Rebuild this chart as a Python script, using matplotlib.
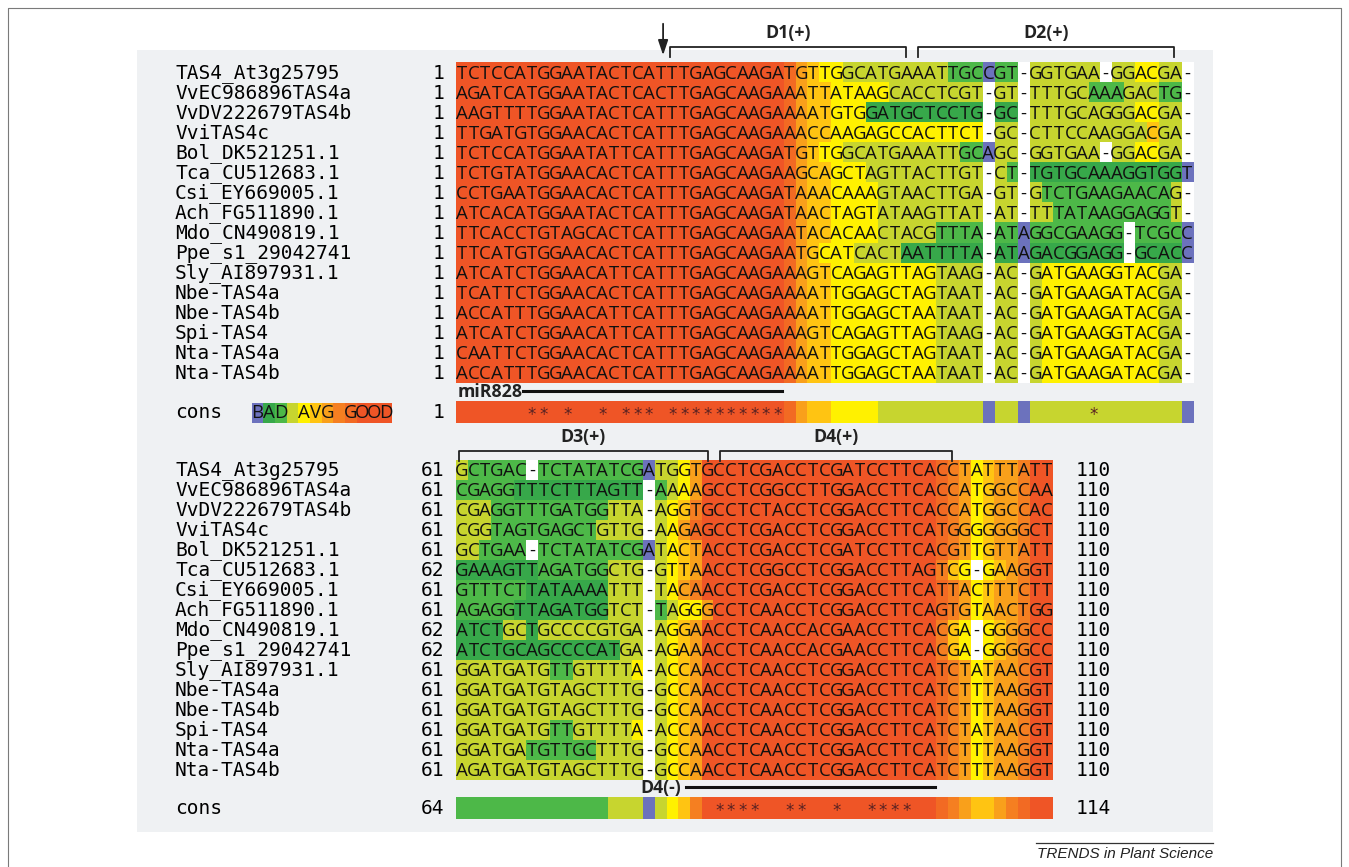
import matplotlib
matplotlib.use('Agg')
import matplotlib.pyplot as plt
import numpy as np
from matplotlib.colors import to_rgb

# ---------------- data ----------------
names = ["TAS4_At3g25795", "VvEC986896TAS4a", "VvDV222679TAS4b", "VviTAS4c",
         "Bol_DK521251.1", "Tca_CU512683.1", "Csi_EY669005.1", "Ach_FG511890.1",
         "Mdo_CN490819.1", "Ppe_s1_29042741", "Sly_AI897931.1", "Nbe-TAS4a",
         "Nbe-TAS4b", "Spi-TAS4", "Nta-TAS4a", "Nta-TAS4b"]

top_start = ["1"] * 16
bot_start = ["61", "61", "61", "61", "61", "62", "61", "61", "62", "62",
             "61", "61", "61", "61", "61", "61"]
bot_end = ["110"] * 16
cons_numbers = ["1", "64", "114"]

top_seqs = [
    "TCTCCATGGAATACTCATTTG" + "AGCAAGATGTTGGCATGAAAT" + "TGCCGT-GGTGAA-GGACGA-",
    "AGATCATGGAATACTCACTTG" + "AGCAAGAAATTATAAGCACCT" + "CGT-GT-TTTGCAAAGACTG-",
    "AAGTTTTGGAATACTCATTTG" + "AGCAAGAAAATGTGGATGCTC" + "CTG-GC-TTTGCAGGGACGA-",
    "TTGATGTGGAACACTCATTTG" + "AGCAAGAAACCAAGAGCCACT" + "TCT-GC-CTTCCAAGGACGA-",
    "TCTCCATGGAATATTCATTTG" + "AGCAAGATGTTGGCATGAAAT" + "TGCAGC-GGTGAA-GGACGA-",
    "TCTGTATGGAACACTCATTTG" + "AGCAAGAAGCAGCTAGTTACT" + "TGT-CT-TGTGCAAAGGTGGT",
    "CCTGAATGGAACACTCATTTG" + "AGCAAGATAAACAAAGTAACT" + "TGA-GT-GTCTGAAGAACAG-",
    "ATCACATGGAATACTCATTTG" + "AGCAAGATAACTAGTATAAGT" + "TAT-AT-TTTATAAGGAGGT-",
    "TTCACCTGTAGCACTCATTTG" + "AGCAAGAATACACAACTACGT" + "TTA-ATAGGCGAAGG-TCGCC",
    "TTCATGTGGAACACTCATTTG" + "AGCAAGAATGCATCACTAATT" + "TTA-ATAGACGGAGG-GCACC",
    "ATCATCTGGAACATTCATTTG" + "AGCAAGAAAGTCAGAGTTAGT" + "AAG-AC-GATGAAGGTACGA-",
    "TCATTCTGGAACACTCATTTG" + "AGCAAGAAAATTGGAGCTAGT" + "AAT-AC-GATGAAGATACGA-",
    "ACCATTTGGAACATTCATTTG" + "AGCAAGAAAATTGGAGCTAAT" + "AAT-AC-GATGAAGATACGA-",
    "ATCATCTGGAACATTCATTTG" + "AGCAAGAAAGTCAGAGTTAGT" + "AAG-AC-GATGAAGGTACGA-",
    "CAATTCTGGAACACTCATTTG" + "AGCAAGAAAATTGGAGCTAGT" + "AAT-AC-GATGAAGATACGA-",
    "ACCATTTGGAACACTCATTTG" + "AGCAAGAAAATTGGAGCTAAT" + "AAT-AC-GATGAAGATACGA-",
]

RED28 = "9999999999999999999999999999"
top_scores = [
    RED28 + "86544333333333222022-333333-334433-",
    RED28 + "86554444433333333-33-3333322233322-",
    RED28 + "86554441111111111-11-3333333334433-",
    RED28 + "86554444444444444-33-3333333333533-",
    RED28 + "86544333333333322033-333333-334433-",
    RED28 + "86554443333333333-32-11111111111110",
    RED28 + "86554444333333333-33-3222222222223-",
    RED28 + "86554444333333333-33-3322222222223-",
    RED28 + "86554444333332222-22022222222-22220",
    RED28 + "86544433331111111-11011111111-11110",
    RED28 + "86554444444443333-33-3444444444433-",
    RED28 + "86554444444443333-33-3444444444433-",
    RED28 + "86554444444443333-33-3444444444433-",
    RED28 + "86554444444443333-33-3444444444433-",
    RED28 + "86554444444443333-33-3444444444433-",
    RED28 + "86554444444443333-33-3444444444433-",
]
top_cons = RED28 + "86554444333333333033033333333333330"

bot_seqs = [
    "GCTGAC-TCTATATCGATGG" + "TGCCTCGACCTCGATCCTTCA" + "CCTATTTATT",
    "CGAGGTTTCTTTAGTT-AAA" + "AGCCTCGGCCTTGGACCTTCA" + "CCATGGCCAA",
    "CGAGGTTTGATGGTTA-AGG" + "TGCCTCTACCTCGGACCTTCA" + "CCATGGCCAC",
    "CGGTAGTGAGCTGTTG-AAG" + "AGCCTCGACCTCGGACCTTCA" + "TGGGGGGGCT",
    "GCTGAA-TCTATATCGATAC" + "TACCTCGACCTCGATCCTTCA" + "CGTTGTTATT",
    "GAAAGTTAGATGGCTG-GTT" + "AACCTCGGCCTCGGACCTTAG" + "TCG-GAAGGT",
    "GTTTCTTATAAAATTT-TAC" + "AACCTCGACCTCGGACCTTCA" + "TTACTTTCTT",
    "AGAGGTTAGATGGTCT-TAG" + "GGCCTCAACCTCGGACCTTCA" + "GTGTAACTGG",
    "ATCTGCTGCCCCGTGA-AGG" + "AACCTCAACCACGAACCTTCA" + "CGA-GGGGCC",
    "ATCTGCAGCCCCATGA-AGA" + "AACCTCAACCACGAACCTTCA" + "CGA-GGGGCC",
    "GGATGATGTTGTTTTA-ACC" + "AACCTCAACCTCGGACCTTCA" + "TCTATAACGT",
    "GGATGATGTAGCTTTG-GCC" + "AACCTCAACCTCGGACCTTCA" + "TCTTTAAGGT",
    "GGATGATGTAGCTTTG-GCC" + "AACCTCAACCTCGGACCTTCA" + "TCTTTAAGGT",
    "GGATGATGTTGTTTTA-ACC" + "AACCTCAACCTCGGACCTTCA" + "TCTATAACGT",
    "GGATGATGTTGCTTTG-GCC" + "AACCTCAACCTCGGACCTTCA" + "TCTTTAAGGT",
    "AGATGATGTAGCTTTG-GCC" + "AACCTCAACCTCGGACCTTCA" + "TCTTTAAGGT",
]

RED20 = "99999999999999999999"
END_A = "8764566799"
END_B = "754-456799"
bot_scores = [
    "322222-22222222203346" + RED20 + END_A,
    "2222211111111111-2346" + RED20 + END_A,
    "3332222222222333-3457" + RED20 + END_A,
    "3332222222223333-3468" + RED20 + END_A,
    "332222-22222222203456" + RED20 + END_A,
    "1111111222222333-3456" + RED20 + END_B,
    "2222221111111333-3467" + RED20 + END_A,
    "2222211111111333-2344" + "69999999999999999999" + END_A,
    "1111331333333333-3456" + RED20 + END_B,
    "1111111111111133-3456" + RED20 + END_B,
    "3333333322333334-3456" + RED20 + END_A,
    "3333333333333333-3456" + RED20 + END_A,
    "3333333333333333-3456" + RED20 + END_A,
    "3333333322333334-3456" + RED20 + END_A,
    "3333332222223333-3456" + RED20 + END_A,
    "3333333333333333-3456" + RED20 + END_A,
]
bot_cons = "222222222222233303457" + RED20 + "8765567899"

legend_text = "BAD AVG GOOD"
legend_scores = "012345678999"

# ---------------- style ----------------
score_colors = {
    "0": "#6c72bd", "1": "#37a84a", "2": "#4db848", "3": "#c7d52f",
    "4": "#fff100", "5": "#ffc412", "6": "#f9a01b", "7": "#f57f21",
    "8": "#f26a23", "9": "#ef5526", "-": "#ffffff",
}
PANEL = "#eff1f3"
SEQ_FONT = "Open Sans"
MONO = "DejaVu Sans Mono"
MONO_SIZE = 14.0

W, H = 1349, 867
fig = plt.figure(figsize=(W / 100, H / 100), dpi=100)
ax = fig.add_axes([0, 0, 1, 1])
ax.set_xlim(0, W)
ax.set_ylim(H, 0)
ax.axis("off")

# outer frame and panel
ax.plot([8, 8, 1341, 1341], [H, 8, 8, H], color="#7a7a7a", lw=0.8)
ax.add_patch(plt.Rectangle((137, 50), 1076, 782, color=PANEL, zorder=0, lw=0))

X0 = 456.0     # left edge of first alignment column
CW = 11.7      # column width
RH = 20.0      # row height
TOP_Y = 63.3
BOT_Y = 460.0
TOP_CONS_Y = 402.0
BOT_CONS_Y = 797.5
CONS_H = 21.5


def col_x(c):
    return X0 + CW * c


def draw_block(seqs, scores, y0):
    ncol = len(seqs[0])
    img = np.ones((len(seqs), ncol, 3))
    for i, (s, sc) in enumerate(zip(seqs, scores)):
        for j, ch in enumerate(s):
            key = "-" if ch == "-" else (sc[j] if j < len(sc) else "3")
            if key == "-" and ch != "-":
                key = "3"
            img[i, j] = to_rgb(score_colors[key])
    ax.imshow(img, extent=(col_x(0), col_x(ncol), y0 + RH * len(seqs), y0),
              aspect="auto", interpolation="nearest", zorder=1)
    for i, s in enumerate(seqs):
        for j, ch in enumerate(s):
            ax.text(col_x(j + 0.5), y0 + RH * (i + 0.5) + 0.5, ch,
                    ha="center", va="center", fontsize=13.4,
                    family=SEQ_FONT, color="#111111", zorder=2)


def draw_cons(scores, seqs, y0):
    ncol = len(scores)
    img = np.array([[to_rgb(score_colors[c]) for c in scores]])
    ax.imshow(img, extent=(col_x(0), col_x(ncol), y0 + CONS_H, y0),
              aspect="auto", interpolation="nearest", zorder=1)
    for j in range(ncol):
        column = {s[j] for s in seqs}
        if len(column) == 1 and "-" not in column:
            ax.text(col_x(j + 0.5), y0 + CONS_H / 2 + 2.5, "*", ha="center",
                    va="center", fontsize=12, color="#5a2222", zorder=2,
                    family="DejaVu Sans")


draw_block(top_seqs, top_scores, TOP_Y)
draw_block(bot_seqs, bot_scores, BOT_Y)
draw_cons(top_cons, top_seqs, TOP_CONS_Y)
draw_cons(bot_cons, bot_seqs, BOT_CONS_Y)

# names and numbers
for i, n in enumerate(names):
    yt = TOP_Y + RH * (i + 0.5)
    yb = BOT_Y + RH * (i + 0.5)
    ax.text(175, yt, n, ha="left", va="center", fontsize=MONO_SIZE, family=MONO)
    ax.text(175, yb, n, ha="left", va="center", fontsize=MONO_SIZE, family=MONO)
    ax.text(444, yt, top_start[i], ha="right", va="center", fontsize=MONO_SIZE, family=MONO)
    ax.text(444, yb, bot_start[i], ha="right", va="center", fontsize=MONO_SIZE, family=MONO)
    ax.text(1076, yb, bot_end[i], ha="left", va="center", fontsize=MONO_SIZE, family=MONO)

# cons labels
yc1 = TOP_CONS_Y + CONS_H / 2
yc2 = BOT_CONS_Y + CONS_H / 2
ax.text(175, yc1, "cons", ha="left", va="center", fontsize=MONO_SIZE, family=MONO)
ax.text(175, yc2, "cons", ha="left", va="center", fontsize=MONO_SIZE, family=MONO)
ax.text(444, yc1, cons_numbers[0], ha="right", va="center", fontsize=MONO_SIZE, family=MONO)
ax.text(444, yc2, cons_numbers[1], ha="right", va="center", fontsize=MONO_SIZE, family=MONO)
ax.text(1076, yc2, cons_numbers[2], ha="left", va="center", fontsize=MONO_SIZE, family=MONO)

# legend BAD AVG GOOD
LX0, LCW = 251.5, 11.67
for k, (ch, sc) in enumerate(zip(legend_text, legend_scores)):
    ax.add_patch(plt.Rectangle((LX0 + k * LCW, yc1 - 10), LCW, 20,
                               color=score_colors[sc], lw=0, zorder=1))
    ax.text(LX0 + (k + 0.5) * LCW, yc1 + 0.5, ch, ha="center", va="center",
            fontsize=13.4, family=SEQ_FONT, color="#111111", zorder=2)

# annotations (columns in alignment coordinates)
BOLD = dict(fontsize=12.8, family=SEQ_FONT, fontweight="bold", color="#222222")


def bracket(c0, c1, y, label):
    xa, xb = col_x(c0), col_x(c1)
    ax.plot([xa, xa, xb, xb], [y + 10, y, y, y + 10], color="#222222", lw=1.3)
    ax.text((xa + xb) / 2, y - 14, label, ha="center", va="center", **BOLD)


bracket(18.3, 38.5, 47, "D1(+)")
bracket(39.5, 61.4, 47, "D2(+)")
bracket(0.25, 21.5, 451, "D3(+)")
bracket(22.6, 42.4, 451, "D4(+)")

# arrow (cleavage site)
ax.annotate("", xy=(col_x(17.7), 58), xytext=(col_x(17.7), 21),
            arrowprops=dict(arrowstyle="-|>,head_length=0.9,head_width=0.3",
                            color="#222222", lw=1.3))

# miR828 line
ax.text(col_x(0.1), 392, "miR828", ha="left", va="center", **BOLD)
ax.plot([col_x(5.7), col_x(27.9)], [391, 391], color="#111111", lw=2.2)

# D4(-) line
ax.text(col_x(15.8), 788.5, "D4(-)", ha="left", va="center", **BOLD)
ax.plot([col_x(19.7), col_x(40.9)], [787, 787], color="#111111", lw=2.2)

# credit
ax.plot([1036, 1213], [843, 843], color="#333333", lw=0.9)
ax.text(1213, 854, "TRENDS in Plant Science", ha="right", va="center",
        fontsize=11, style="italic", family="Liberation Sans", color="#222222")

fig.savefig("out.png", dpi=100, facecolor="white")
